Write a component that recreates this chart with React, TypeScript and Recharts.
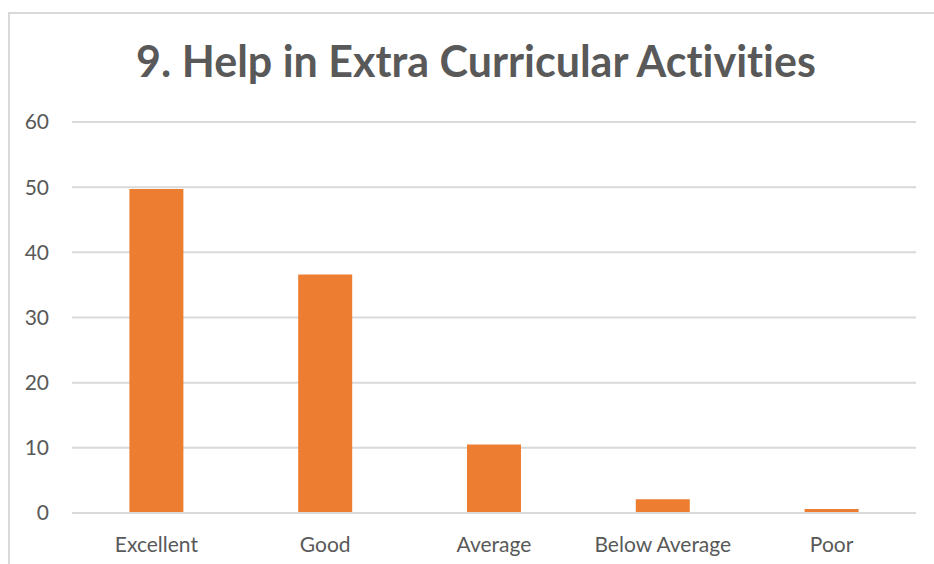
import React from "react";
import { BarChart, Bar, XAxis, YAxis, CartesianGrid } from "recharts";

const categories = ["Excellent", "Good", "Average", "Below Average", "Poor"];
const values = [49.7, 36.6, 10.5, 2.1, 0.6];
const yTicks = [0, 10, 20, 30, 40, 50, 60];
const title = "9. Help in Extra Curricular Activities";

const data = categories.map((c, i) => ({ name: c, value: values[i] }));

const FONT = "Lato, 'Open Sans', sans-serif";
const GRAY = "#595959";

export default function App() {
  return (
    <div style={{ position: "absolute", left: 0, top: 0, width: 934, height: 564, background: "#fff", overflow: "hidden" }}>
      <div
        style={{
          position: "absolute",
          left: 8,
          top: 12,
          width: 960,
          height: 600,
          border: "2px solid #d9d9d9",
          boxSizing: "border-box",
        }}
      />
      <div
        style={{
          position: "absolute",
          left: 0,
          top: 31,
          width: 952,
          textAlign: "center",
          fontFamily: FONT,
          fontWeight: 700,
          fontSize: 43,
          color: GRAY,
          lineHeight: "60px",
          whiteSpace: "nowrap",
          fontVariantLigatures: "none",
        }}
      >
        {title}
      </div>
      <div style={{ position: "absolute", left: 0, top: 0 }}>
        <BarChart
          width={934}
          height={564}
          data={data}
          margin={{ top: 122, right: 18, bottom: 11, left: 12 }}
          barCategoryGap="34%"
        >
          <CartesianGrid vertical={false} stroke="#d9d9d9" strokeWidth={2} />
          <XAxis
            dataKey="name"
            axisLine={{ stroke: "#d9d9d9", strokeWidth: 2 }}
            tickLine={false}
            tickSize={0}
            tickMargin={24}
            height={40}
            tick={{ fill: GRAY, fontSize: 21, fontFamily: FONT }}
          />
          <YAxis
            domain={[0, 60]}
            ticks={yTicks}
            axisLine={false}
            tickLine={false}
            tickSize={0}
            tickMargin={23}
            width={60}
            tick={{ fill: GRAY, fontSize: 21, fontFamily: FONT }}
          />
          <Bar dataKey="value" fill="#ED7D31" isAnimationActive={false} />
        </BarChart>
      </div>
    </div>
  );
}
